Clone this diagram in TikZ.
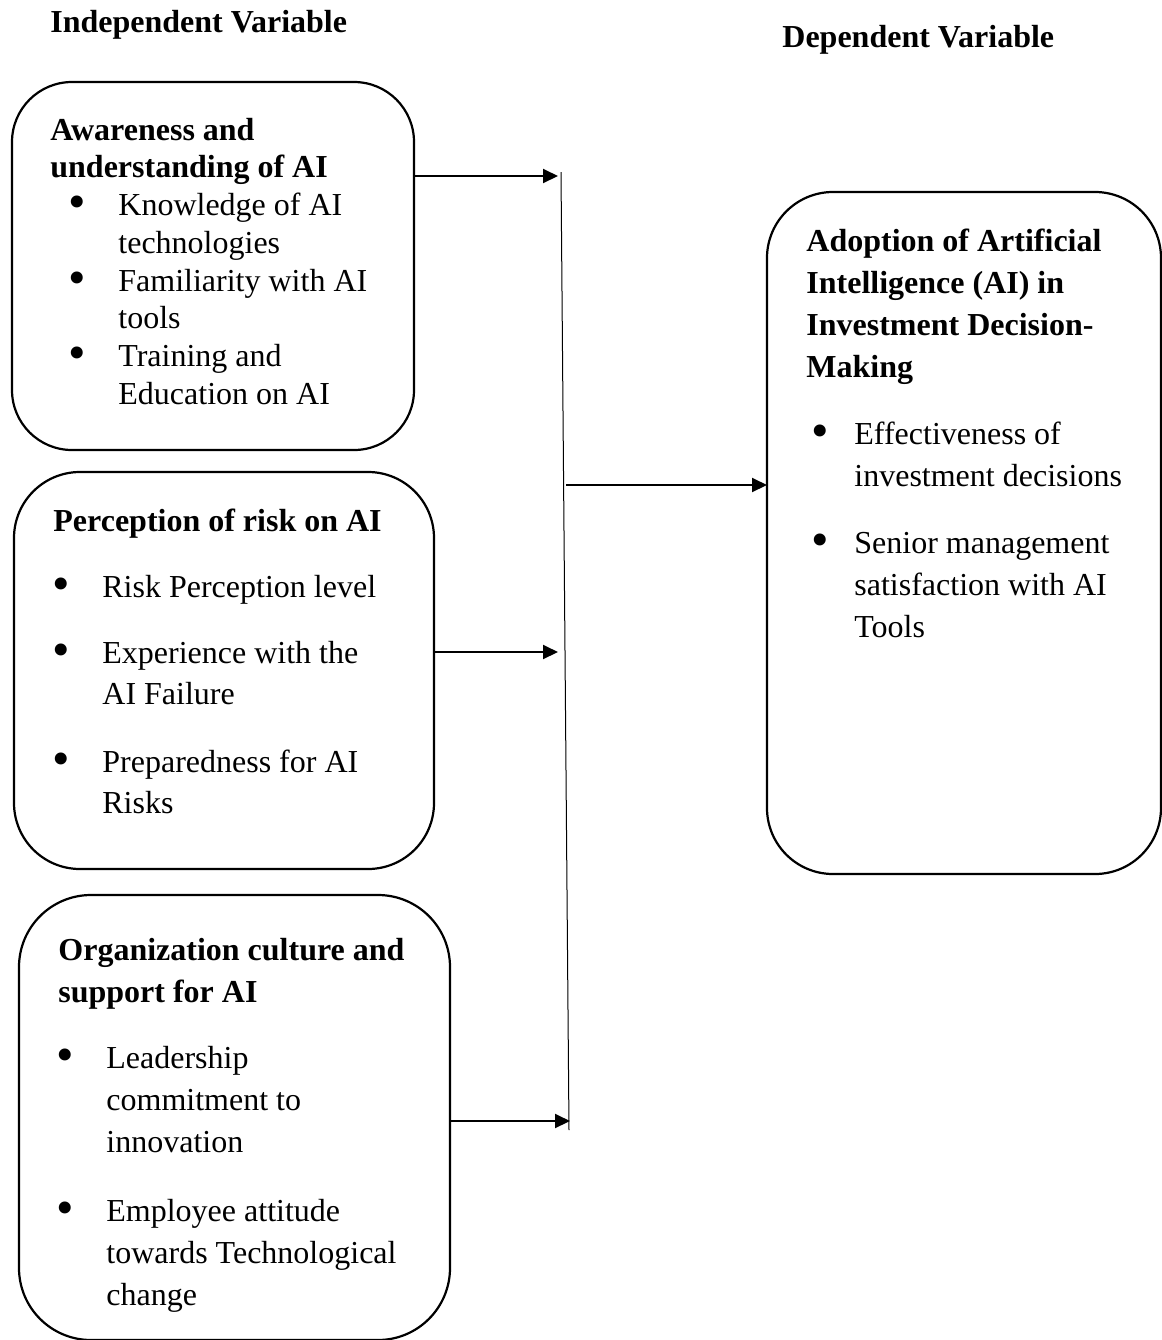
\documentclass[tikz,border=0pt]{standalone}
\usepackage{fontspec}
\setmainfont{Liberation Serif}
\usetikzlibrary{arrows.meta}
\begin{document}
\begin{tikzpicture}[x=0.5pt,y=-0.5pt,
  box/.style={draw, line width=1.1pt, inner sep=0pt, outer sep=0pt},
  txt/.style={anchor=base west, inner sep=0pt, font=\fontsize{16}{19}\selectfont},
  hd/.style={anchor=base west, inner sep=0pt, font=\fontsize{16}{19}\selectfont\bfseries},
  bul/.style={anchor=center, inner sep=0pt, font=\fontsize{25}{27}\selectfont},
  arr/.style={line width=1pt, -{Triangle[length=7.5pt,width=7pt]}},
  vline/.style={line width=0.5pt}
]
\useasboundingbox (0,0) rectangle (1162,1340);

% titles
\node[hd] (tind) at (50,32) {Independent Variable};
\node[hd] (tdep) at (782,47) {Dependent Variable};

% boxes
\node[box, rounded corners=30pt, minimum width=201pt, minimum height=184pt] (b1) at (213,266) {};
\node[box, rounded corners=33pt, minimum width=210pt, minimum height=198.5pt] (b2) at (224,670.5) {};
\node[box, rounded corners=36pt, minimum width=215.5pt, minimum height=222.5pt] (b3) at (234.5,1117.5) {};
\node[box, rounded corners=33pt, minimum width=197pt, minimum height=341pt] (b4) at (964,533) {};

% box 1 text
\node[hd] (h1a) at (50,140) {Awareness and};
\node[hd] (h1b) at (50,177) {understanding of AI};
\node[bul] (u1a) at (77,207) {•};
\node[txt] (i1a) at (118,215) {Knowledge of AI};
\node[txt] (i1b) at (118,253) {technologies};
\node[bul] (u1b) at (77,283) {•};
\node[txt] (i1c) at (118,291) {Familiarity with AI};
\node[txt] (i1d) at (118,328) {tools};
\node[bul] (u1c) at (77,358) {•};
\node[txt] (i1e) at (118,366) {Training and};
\node[txt] (i1f) at (118,404) {Education on AI};

% box 2 text
\node[hd] (h2a) at (53,531) {Perception of risk on AI};
\node[bul] (u2a) at (61.5,589) {•};
\node[txt] (i2a) at (102,597) {Risk Perception level};
\node[bul] (u2b) at (61.5,655) {•};
\node[txt] (i2b) at (102,663) {Experience with the};
\node[txt] (i2c) at (102,704) {AI Failure};
\node[bul] (u2c) at (61.5,764) {•};
\node[txt] (i2d) at (102,772) {Preparedness for AI};
\node[txt] (i2e) at (102,813) {Risks};

% box 3 text
\node[hd] (h3a) at (58,960) {Organization culture and};
\node[hd] (h3b) at (58,1002) {support for AI};
\node[bul] (u3a) at (65,1060) {•};
\node[txt] (i3a) at (106,1068) {Leadership};
\node[txt] (i3b) at (106,1110) {commitment to};
\node[txt] (i3c) at (106,1152) {innovation};
\node[bul] (u3b) at (65,1213) {•};
\node[txt] (i3d) at (106,1221) {Employee attitude};
\node[txt] (i3e) at (106,1263) {towards Technological};
\node[txt] (i3f) at (106,1305) {change};

% box 4 text
\node[hd] (h4a) at (806,251) {Adoption of Artificial};
\node[hd] (h4b) at (806,293) {Intelligence (AI) in};
\node[hd] (h4c) at (806,335) {Investment Decision-};
\node[hd] (h4d) at (806,377) {Making};
\node[bul] (u4a) at (820,436) {•};
\node[txt] (i4a) at (854,444) {Effectiveness of};
\node[txt] (i4b) at (854,486) {investment decisions};
\node[bul] (u4b) at (820,545) {•};
\node[txt] (i4c) at (854,553) {Senior management};
\node[txt] (i4d) at (854,595) {satisfaction with AI};
\node[txt] (i4e) at (854,637) {Tools};

% connectors
\coordinate (vt) at (561,172);
\coordinate (vb) at (569,1130);
\draw[vline] (vt) -- (vb);
\coordinate (a1) at (558,176);
\coordinate (a2) at (566,485);
\coordinate (a3) at (558,652);
\coordinate (a4) at (570,1121);
\draw[arr] (b1.east |- a1) -- (a1);
\draw[arr] (b2.east |- a3) -- (a3);
\draw[arr] (b3.east |- a4) -- (a4);
\draw[arr] (a2) -- (a2 -| b4.west);
\end{tikzpicture}
\end{document}
